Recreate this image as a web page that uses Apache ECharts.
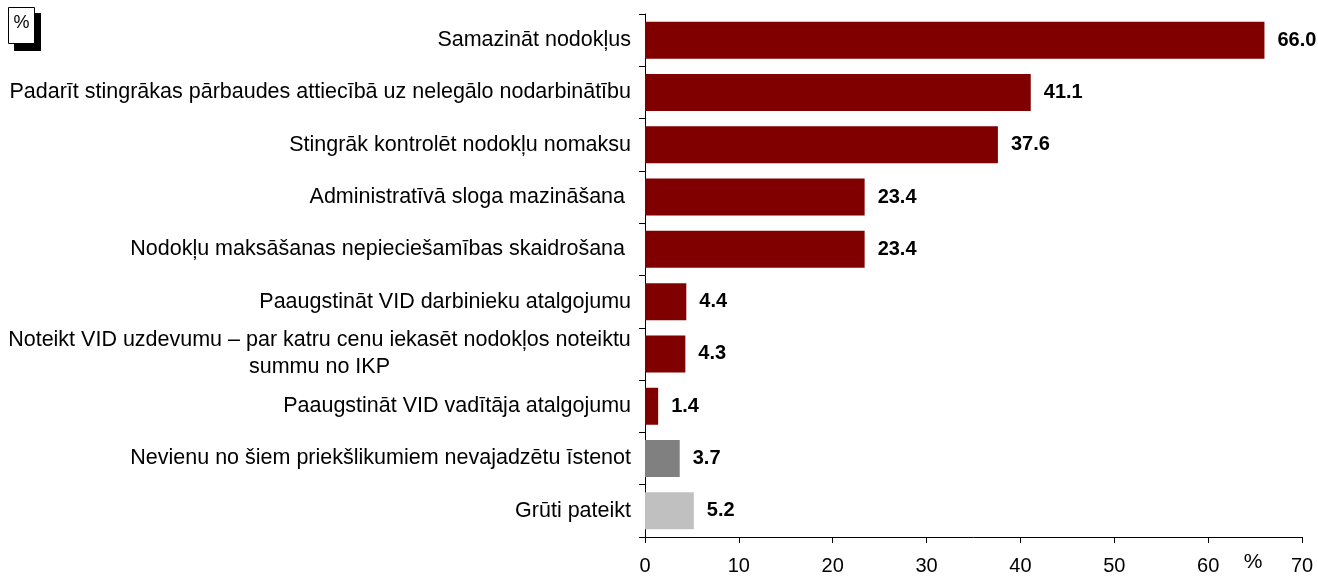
<!DOCTYPE html>
<html>
<head>
<meta charset="utf-8">
<script src="https://cdn.jsdelivr.net/npm/echarts@6/dist/echarts.min.js"></script>
<style>html,body{margin:0;padding:0;background:#fff}#c{width:1318px;height:577px}</style>
</head>
<body>
<div id="c"></div>
<script>
var categories = [
  'Samazināt nodokļus',
  'Padarīt stingrākas pārbaudes attiecībā uz nelegālo nodarbinātību',
  'Stingrāk kontrolēt nodokļu nomaksu',
  'Administratīvā sloga mazināšana ',
  'Nodokļu maksāšanas nepieciešamības skaidrošana ',
  'Paaugstināt VID darbinieku atalgojumu',
  'Noteikt VID uzdevumu – par katru cenu iekasēt nodokļos noteiktu\nsummu no IKP',
  'Paaugstināt VID vadītāja atalgojumu',
  'Nevienu no šiem priekšlikumiem nevajadzētu īstenot',
  'Grūti pateikt'
];
var values = [66.0, 41.1, 37.6, 23.4, 23.4, 4.4, 4.3, 1.4, 3.7, 5.2];
var barColors = ['#800000','#800000','#800000','#800000','#800000','#800000','#800000','#800000','#808080','#C0C0C0'];
var xTicks = [0, 10, 20, 30, 40, 50, 60, 70];

var FONT = 'Liberation Sans, Arial, sans-serif';
var FS = 21.5;
var cv = document.createElement('canvas').getContext('2d');
cv.font = FS + 'px ' + FONT;
var multiW = 0;
categories.forEach(function (c) {
  if (c.indexOf('\n') >= 0) {
    c.split('\n').forEach(function (l) { multiW = Math.max(multiW, Math.ceil(cv.measureText(l).width)); });
  }
});

var chart = echarts.init(document.getElementById('c'), null, {renderer: 'canvas'});
chart.setOption({
  animation: false,
  grid: {left: 645, right: 16, top: 14, bottom: 40, containLabel: false},
  xAxis: {
    type: 'value', min: xTicks[0], max: xTicks[xTicks.length - 1], interval: 10,
    axisLine: {show: true, lineStyle: {color: '#000', width: 1}},
    axisTick: {show: true, length: 6, lineStyle: {color: '#000'}},
    splitLine: {show: false},
    axisLabel: {color: '#000', fontSize: 20, fontFamily: FONT, margin: 19,
      formatter: function (v) { return xTicks.indexOf(v) >= 0 ? String(v) : ''; }}
  },
  yAxis: {
    type: 'category', data: categories, inverse: true,
    axisLine: {show: true, lineStyle: {color: '#000', width: 1}},
    axisTick: {show: true, length: 6, lineStyle: {color: '#000'}},
    axisLabel: {color: '#000', fontSize: FS, fontFamily: FONT, margin: 14, lineHeight: 27,
      formatter: function (v) {
        if (v.indexOf('\n') >= 0) {
          return v.split('\n').map(function (l) { return '{m|' + l + '}'; }).join('\n');
        }
        return v;
      },
      rich: {m: {width: multiW, align: 'center', fontSize: FS, fontFamily: FONT, color: '#000', lineHeight: 27}}
    }
  },
  series: [{
    type: 'bar', barWidth: 37,
    data: values.map(function (v, i) { return {value: v, itemStyle: {color: barColors[i]}}; }),
    label: {show: true, position: 'right', distance: 13, color: '#000', fontWeight: 'bold',
      fontSize: 20, fontFamily: FONT, formatter: function (p) { return p.value.toFixed(1); }}
  }],
  graphic: [
    {type: 'rect', shape: {x: 14, y: 13, width: 27, height: 38}, style: {fill: '#000'}},
    {type: 'rect', shape: {x: 8.5, y: 7.5, width: 26, height: 36}, style: {fill: '#fff', stroke: '#000', lineWidth: 1}},
    {type: 'text', x: 21.5, y: 23, style: {text: '%', font: '18px ' + FONT, fill: '#000', align: 'center', verticalAlign: 'middle'}},
    {type: 'text', x: 1253, y: 562, style: {text: '%', font: '21px ' + FONT, fill: '#000', align: 'center', verticalAlign: 'middle'}}
  ]
});
</script>
</body>
</html>
